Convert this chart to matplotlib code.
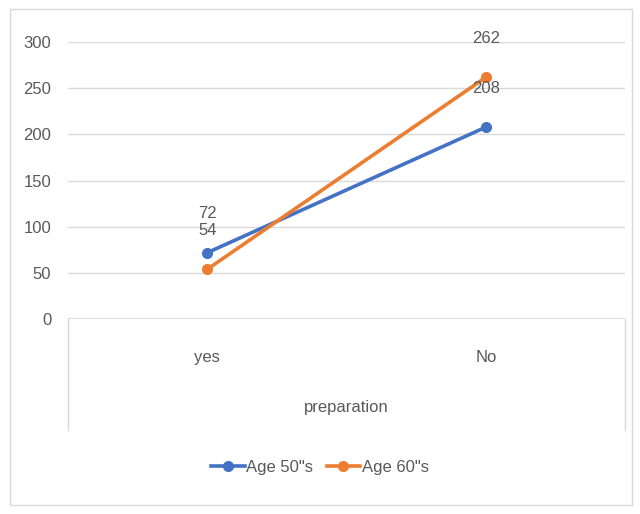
import matplotlib
matplotlib.use("Agg")
import matplotlib.pyplot as plt
from matplotlib.patches import Rectangle

plt.rcParams['font.family'] = ['Liberation Sans Narrow', 'Liberation Sans', 'DejaVu Sans']

# data
categories = ['yes', 'No']
age50 = [72, 208]
age60 = [54, 262]
series_names = ['Age 50"s', 'Age 60"s']

TXT = '#595959'
GRID = '#d9d9d9'

fig = plt.figure(figsize=(6.4, 5.14), dpi=100)
ax = fig.add_axes([0.106, 0.379, 0.871, 0.539])

x = list(range(len(categories)))
ax.plot(x, age50, '-o', color='#4472C4', lw=2.6, ms=7, label=series_names[0], zorder=3)
ax.plot(x, age60, '-o', color='#ED7D31', lw=2.6, ms=7, label=series_names[1], zorder=3)

# data labels (drawn high, as in the original)
for xi, v in zip(x, age50):
    ax.annotate(str(v), (xi, v), xytext=(0, 28), textcoords='offset points',
                ha='center', va='center', fontsize=12, color=TXT)
for xi, v in zip(x, age60):
    ax.annotate(str(v), (xi, v), xytext=(0, 28), textcoords='offset points',
                ha='center', va='center', fontsize=12, color=TXT)

ax.set_xlim(-0.5, 1.5)
ax.set_ylim(0, 300)
ax.set_yticks(range(0, 301, 50))
ax.yaxis.grid(True, color=GRID, lw=1)
ax.set_axisbelow(True)
for s in ax.spines.values():
    s.set_visible(False)
ax.axhline(0, color=GRID, lw=1.2)
ax.tick_params(axis='y', length=0, pad=12, labelsize=12, labelcolor=TXT)
ax.set_xticks(x)
ax.set_xticklabels(categories)
ax.tick_params(axis='x', length=0, pad=22, labelsize=12, labelcolor=TXT)

# category box lines
for xa in (0, 1):
    ax.plot([xa, xa], [0, -0.40], transform=ax.transAxes, color=GRID, lw=1, clip_on=False)
ax.text(0.5, -0.32, 'preparation', transform=ax.transAxes, ha='center', va='center',
        fontsize=12, color=TXT)

fig.legend(loc='center', bbox_to_anchor=(0.5, 0.091), ncol=2, frameon=False,
           fontsize=12, labelcolor=TXT, handlelength=2.0, columnspacing=0.8,
           handletextpad=0.1)

fig.patches.append(Rectangle((10 / 640, 9 / 514), 622 / 640, 496 / 514,
                             transform=fig.transFigure, fill=False,
                             edgecolor='#d9d9d9', lw=1))

fig.savefig('out.png', dpi=100)
